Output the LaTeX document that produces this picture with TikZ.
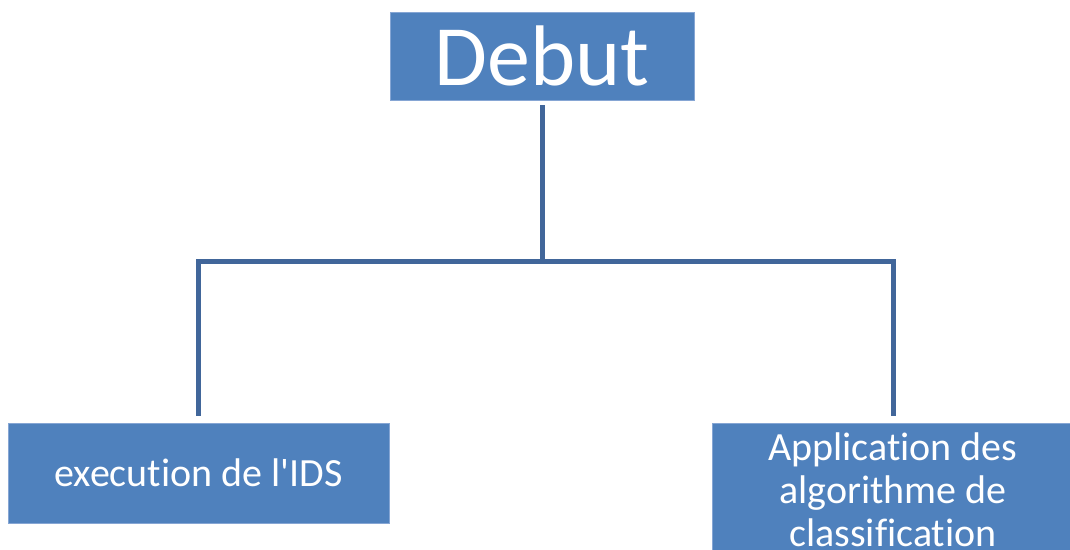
\documentclass[tikz,border=0pt]{standalone}
\usepackage{fontspec}
\setmainfont{Carlito}[Ligatures={TeXOff,NoCommon}]
\usetikzlibrary{positioning}
\definecolor{boxblue}{HTML}{4F81BD}
\definecolor{boxedge}{HTML}{86A6D4}
\definecolor{linkblue}{HTML}{41669A}

\begin{document}
\begin{tikzpicture}[x=1pt, y=1pt, blk/.style={rectangle, fill=boxblue, draw=boxedge, line width=0.8pt, text=white, inner sep=0pt, align=center}, link/.style={draw=linkblue, line width=5pt}]
		\useasboundingbox (0,0) rectangle (1070,549);
		\node[blk, minimum width=304, minimum height=88, font=\fontsize{86}{90}\selectfont] (debut) at (542,493) {Debut};
		\node[blk, minimum width=381, minimum height=100, font=\fontsize{40}{43}\selectfont] (ids) at (198.5,76) {execution de l'IDS};
		\node[blk, minimum width=362, minimum height=134, font=\fontsize{40}{43}\selectfont] (algo) at (893,59) {Application des\\algorithme de\\classification};
		\coordinate (split) at (542,287);
		\draw[link] ([yshift=-5pt]debut.south) -- (split);
		\draw[link] ([yshift=7pt]ids.north) |- (split) -| ([yshift=7pt]algo.north);
	\end{tikzpicture}
\end{document}
